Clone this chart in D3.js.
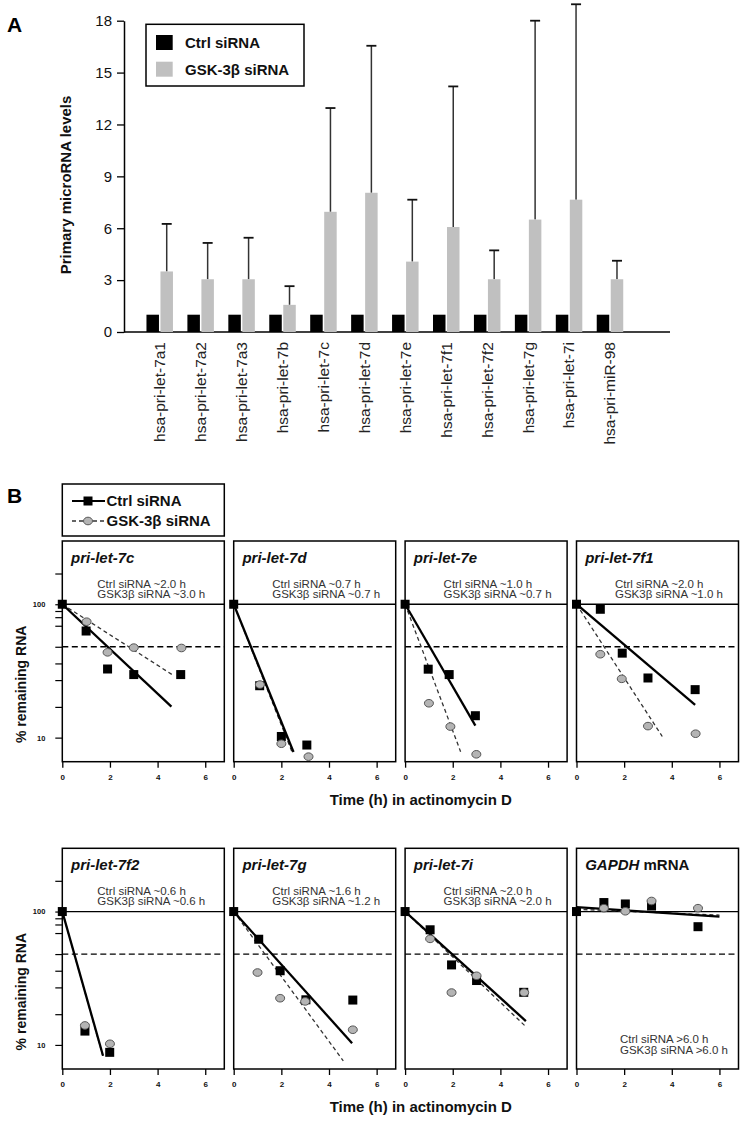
<!DOCTYPE html>
<html><head><meta charset="utf-8">
<script src="https://cdn.jsdelivr.net/npm/d3@7"></script>
<style>body{margin:0;background:#fff}svg{display:block}text{font-family:"Liberation Sans",Arial,sans-serif}</style>
</head><body><svg id="c" width="747" height="1121"></svg>
<script>
// ---------- Panel A data ----------
const categories = ["hsa-pri-let-7a1","hsa-pri-let-7a2","hsa-pri-let-7a3","hsa-pri-let-7b","hsa-pri-let-7c","hsa-pri-let-7d","hsa-pri-let-7e","hsa-pri-let-7f1","hsa-pri-let-7f2","hsa-pri-let-7g","hsa-pri-let-7i","hsa-pri-miR-98"];
const ctrlLevels = [1,1,1,1,1,1,1,1,1,1,1,1];
const gskLevels  = [3.5,3.05,3.05,1.57,6.95,8.05,4.07,6.07,3.05,6.5,7.65,3.05];
const gskErrTop  = [6.25,5.15,5.45,2.65,12.95,16.55,7.65,14.2,4.72,18.0,18.95,4.12];
const yTicksA = [0,3,6,9,12,15,18];
const legendA = ["Ctrl siRNA","GSK-3\u03b2 siRNA"];

// ---------- Panel B data ----------
const panelNames = ["pri-let-7c","pri-let-7d","pri-let-7e","pri-let-7f1","pri-let-7f2","pri-let-7g","pri-let-7i","GAPDH"];
const ctrlHalfLife = ["~2.0 h","~0.7 h","~1.0 h","~2.0 h","~0.6 h","~1.6 h","~2.0 h",">6.0 h"];
const gskHalfLife  = ["~3.0 h","~0.7 h","~0.7 h","~1.0 h","~0.6 h","~1.2 h","~2.0 h",">6.0 h"];
const ctrlPoints = [
  [[0,100],[1,63],[1.9,32.7],[3,29.7],[4.97,29.7]],
  [[0,100],[1.09,24.5],[2.0,10.2],[3.07,8.8]],
  [[0,100],[0.97,32.6],[1.85,29.7],[2.95,14.6]],
  [[0,100],[1.0,91.7],[1.92,43],[3.0,28],[4.98,22.9]],
  [[0,100],[0.95,12.7],[1.99,8.8]],
  [[0,100],[1.05,62],[1.95,36],[3.03,21.8],[5.0,21.7]],
  [[0,100],[1.05,73],[1.95,39.8],[3.0,30.4],[4.98,24.8]],
  [[0,100],[1.15,116.8],[2.05,114],[3.15,110],[5.1,77]]
];
const gskPoints = [
  [[1.02,74],[1.9,43.6],[3,47.3],[5,47]],
  [[1.1,25],[2.0,9.0],[3.14,7.2]],
  [[1.0,18.1],[1.9,12.1],[2.99,7.5]],
  [[1.0,42.2],[1.9,27.6],[3.0,12.2],[5.0,10.7]],
  [[0.95,14],[2.0,10.2]],
  [[1.0,34.9],[1.95,22.4],[3.0,21.2],[5.0,13]],
  [[1.05,62.4],[1.95,24.7],[3.0,33],[5.0,24.7]],
  [[1.15,106],[2.05,100.5],[3.15,120],[5.1,106]]
];
const ctrlFit = [
  [[0,100],[4.58,17.1]],[[0,100],[2.51,7.8]],[[0,100],[2.95,12.3]],[[0,100],[4.98,17.6]],
  [[0,100],[1.71,8.3]],[[0,100],[4.97,10.3]],[[0,100],[5.07,15.1]],[[0,108],[6.0,91.7]]
];
const gskFit = [
  [[0,100],[4.7,29]],[[0,100],[2.45,7.8]],[[0,100],[2.33,7.85]],[[0,100],[3.6,10.2]],
  [[0,100],[1.7,8.3]],[[0,100],[4.6,7.6]],[[0,100],[5.07,13.7]],[[0,104],[6.0,94]]
];
const xTicksB = [0,2,4,6];
const yMajorB = [100,10];
const yMinorB = [170,89,80,69,48,36,27,17];
const refSolid = 100, refDashed = 48;
const legendB = ["Ctrl siRNA","GSK-3\u03b2 siRNA"];

// ---------- drawing ----------
const svg = d3.select("#c");
svg.append("rect").attr("width",747).attr("height",1121).attr("fill","#fff");

// ===== Panel A =====
const gA = svg.append("g");
const yA = d3.scaleLinear().domain([0,18]).range([332,20.7]);
const xA = d3.scaleBand().domain(categories).range([139.25,630.45]);
const barW = 12.5, gap = 1.5;
const cx = c => xA(c) + xA.bandwidth()/2;

const axA = gA.append("g").attr("transform","translate(124,0)")
  .call(d3.axisLeft(yA).tickValues(yTicksA).tickSize(7).tickSizeOuter(0).tickPadding(5));
axA.select(".domain").attr("stroke","#000").attr("stroke-width",1.5);
axA.selectAll(".tick line").attr("stroke","#000").attr("stroke-width",1.3);
axA.selectAll(".tick text").attr("font-size",15).attr("fill","#111").attr("font-family","Liberation Sans, Arial");

gA.append("line").attr("x1",124).attr("x2",670).attr("y1",yA(0)).attr("y2",yA(0)).attr("stroke","#000").attr("stroke-width",1.5);

gA.selectAll(".bc").data(categories).join("rect")
  .attr("x",c=>cx(c)-gap/2-barW).attr("width",barW)
  .attr("y",(c,i)=>yA(ctrlLevels[i])).attr("height",(c,i)=>yA(0)-yA(ctrlLevels[i])).attr("fill","#000");
gA.selectAll(".eb").data(categories).join("line")
  .attr("x1",c=>cx(c)+gap/2+barW/2).attr("x2",c=>cx(c)+gap/2+barW/2)
  .attr("y1",(c,i)=>yA(gskLevels[i])).attr("y2",(c,i)=>yA(gskErrTop[i])).attr("stroke","#333").attr("stroke-width",1.5);
gA.selectAll(".ec").data(categories).join("line")
  .attr("x1",c=>cx(c)+gap/2+barW/2-5).attr("x2",c=>cx(c)+gap/2+barW/2+5)
  .attr("y1",(c,i)=>yA(gskErrTop[i])).attr("y2",(c,i)=>yA(gskErrTop[i])).attr("stroke","#111").attr("stroke-width",1.8);
gA.selectAll(".bg").data(categories).join("rect")
  .attr("x",c=>cx(c)+gap/2).attr("width",barW)
  .attr("y",(c,i)=>yA(gskLevels[i])).attr("height",(c,i)=>yA(0)-yA(gskLevels[i])).attr("fill","#c0c0c0");

gA.selectAll(".cl").data(categories).join("text")
  .attr("transform",c=>`translate(${cx(c)},342) rotate(-90)`)
  .attr("text-anchor","end").attr("dy","0.35em").attr("font-size",15.5).attr("fill","#222").text(c=>c);

gA.append("text").attr("transform","translate(66,185) rotate(-90)").attr("text-anchor","middle")
  .attr("dy","0.35em").attr("font-size",15).attr("font-weight","bold").attr("fill","#111").text("Primary microRNA levels");
svg.append("text").attr("x",7).attr("y",32).attr("font-size",21).attr("font-weight","bold").text("A");

const lgA = gA.append("g");
lgA.append("rect").attr("x",146).attr("y",24.3).attr("width",158).attr("height",61.7).attr("fill","#fff").attr("stroke","#000").attr("stroke-width",1.5);
lgA.selectAll(".sw").data(legendA).join("rect").attr("x",156).attr("y",(d,i)=>35+i*26.7).attr("width",16.7).attr("height",15)
  .attr("fill",(d,i)=>i?"#c0c0c0":"#000");
lgA.selectAll(".lt").data(legendA).join("text").attr("x",185).attr("y",(d,i)=>48+i*26.7)
  .attr("font-size",15).attr("font-weight","bold").attr("fill","#111").text(d=>d);

// ===== Panel B =====
svg.append("text").attr("x",7).attr("y",503).attr("font-size",21).attr("font-weight","bold").text("B");
const lgB = svg.append("g");
lgB.append("rect").attr("x",62.3).attr("y",484).attr("width",162).attr("height",52).attr("fill","#fff").attr("stroke","#000").attr("stroke-width",1.5);
lgB.append("line").attr("x1",72).attr("x2",105).attr("y1",501).attr("y2",501).attr("stroke","#000").attr("stroke-width",2);
lgB.append("rect").attr("x",83.5).attr("y",496.5).attr("width",9).attr("height",9).attr("fill","#000");
lgB.append("line").attr("x1",72).attr("x2",105).attr("y1",521).attr("y2",521).attr("stroke","#333").attr("stroke-width",1.3).attr("stroke-dasharray","4,3");
lgB.append("ellipse").attr("cx",88).attr("cy",521).attr("rx",4.5).attr("ry",3.8).attr("fill","#b4b4b4").attr("stroke","#555").attr("stroke-width",1);
lgB.selectAll(".lb").data(legendB).join("text").attr("x",106.5).attr("y",(d,i)=>505.7+i*20)
  .attr("font-size",15).attr("font-weight","bold").attr("fill","#111").text(d=>d);

const pW = 162, pH = 220.7;
panelNames.forEach((name,i)=>{
  const row = Math.floor(i/4), col = i%4;
  const left = 62.3 + col*171.4, top = row ? 848.3 : 541;
  const x = d3.scaleLinear().domain([0,6.8]).range([left,left+pW]);
  const y = d3.scaleLog().domain([6.6,298]).range([top+pH,top]);
  const g = svg.append("g");
  const clipId = "clip"+i;
  g.append("clipPath").attr("id",clipId).append("rect").attr("x",left).attr("y",top).attr("width",pW).attr("height",pH);
  const inner = g.append("g").attr("clip-path",`url(#${clipId})`);

  inner.append("line").attr("x1",left).attr("x2",left+pW).attr("y1",y(refSolid)).attr("y2",y(refSolid)).attr("stroke","#000").attr("stroke-width",1.3);
  inner.append("line").attr("x1",left).attr("x2",left+pW).attr("y1",y(refDashed)).attr("y2",y(refDashed)).attr("stroke","#000").attr("stroke-width",1.3).attr("stroke-dasharray","6,3.5");

  const line = d3.line().x(d=>x(d[0])).y(d=>y(d[1]));
  inner.append("path").attr("d",line(gskFit[i])).attr("fill","none").attr("stroke","#333").attr("stroke-width",1.3).attr("stroke-dasharray","4,3");
  inner.append("path").attr("d",line(ctrlFit[i])).attr("fill","none").attr("stroke","#000").attr("stroke-width",2.3);

  g.selectAll(".sq").data(ctrlPoints[i]).join("rect")
    .attr("x",d=>x(d[0])-4.5).attr("y",d=>y(d[1])-4.5).attr("width",9).attr("height",9).attr("fill","#000");
  g.selectAll(".ci").data(gskPoints[i]).join("ellipse")
    .attr("cx",d=>x(d[0])).attr("cy",d=>y(d[1])).attr("rx",4.5).attr("ry",3.8).attr("fill","#b4b4b4").attr("stroke","#555").attr("stroke-width",1);

  g.append("rect").attr("x",left).attr("y",top).attr("width",pW).attr("height",pH).attr("fill","none").attr("stroke","#000").attr("stroke-width",1.5);

  const ax = g.append("g").attr("transform",`translate(0,${top+pH})`)
    .call(d3.axisBottom(x).tickValues(xTicksB).tickFormat(d3.format("d")).tickSize(6).tickSizeOuter(0).tickPadding(6.6));
  ax.select(".domain").remove();
  ax.selectAll(".tick line").attr("stroke","#000").attr("stroke-width",1.3);
  ax.selectAll(".tick text").attr("font-size",8).attr("font-weight","bold").attr("fill","#111").attr("font-family","Liberation Sans, Arial");

  if(col===0){
    const ay = g.append("g").attr("transform",`translate(${left},0)`)
      .call(d3.axisLeft(y).tickValues(yMajorB.concat(yMinorB)).tickSize(7).tickSizeOuter(0).tickPadding(10)
        .tickFormat(v=>yMajorB.includes(v)?String(v):""));
    ay.select(".domain").remove();
    ay.selectAll(".tick line").attr("stroke","#000").attr("stroke-width",1.2);
    ay.selectAll(".tick text").attr("font-size",7.5).attr("font-weight","bold").attr("fill","#111").attr("font-family","Liberation Sans, Arial");
    g.append("text").attr("transform",`translate(21,${top+pH/2+33}) rotate(-90)`).attr("text-anchor","middle").attr("dy","0.35em")
      .attr("font-size",14).attr("font-weight","bold").attr("fill","#111").text("% remaining RNA");
  }

  const t = g.append("text").attr("x",left+8.7).attr("y",top+22).attr("font-size",15).attr("font-weight","bold").attr("fill","#111");
  if(name==="GAPDH"){
    t.append("tspan").attr("font-style","italic").text("GAPDH");
    t.append("tspan").text(" mRNA");
  } else {
    t.attr("font-style","italic").text(name);
  }
  const bottomNote = name==="GAPDH";
  const nx = left + (bottomNote ? 43.5 : (col===0 ? 35 : 38.5));
  const ny = bottomNote ? top+pH-25.7 : top+46.5;
  g.append("text").attr("x",nx).attr("y",ny).attr("font-size",11.5).attr("fill","#333").text("Ctrl siRNA "+ctrlHalfLife[i]);
  g.append("text").attr("x",nx).attr("y",ny+10.2).attr("font-size",11.5).attr("fill","#333").text("GSK3\u03b2  siRNA "+gskHalfLife[i]);
});

[761.7+43.3, 1069+43.3].forEach(by=>{
  svg.append("text").attr("x",420.8).attr("y",by).attr("text-anchor","middle").attr("font-size",15).attr("font-weight","bold").attr("fill","#111")
    .text("Time (h) in actinomycin D");
});
</script></body></html>
